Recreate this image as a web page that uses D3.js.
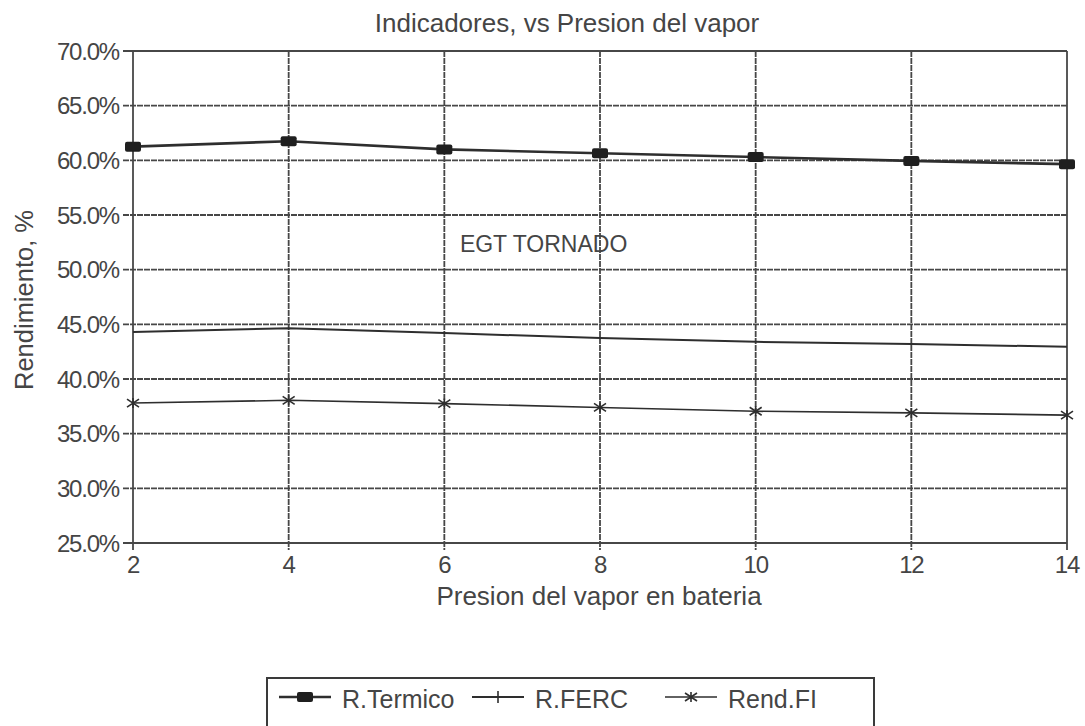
<!DOCTYPE html>
<html>
<head>
<meta charset="utf-8">
<script src="https://cdn.jsdelivr.net/npm/d3@7"></script>
<style>
  html, body { margin: 0; padding: 0; background: #ffffff; }
  svg { display: block; }
  text { font-family: "Liberation Sans", Arial, Helvetica, sans-serif; fill: #454545; }
</style>
</head>
<body>
<svg id="chart" width="1085" height="726"></svg>
<script>
// Presión del vapor en batería (eje X)
const presion = [2, 4, 6, 8, 10, 12, 14];
// Rendimientos en %
const rTermico = [61.25, 61.75, 61.0, 60.65, 60.3, 59.95, 59.65];
const rFerc    = [44.3, 44.65, 44.2, 43.75, 43.4, 43.2, 42.95];
const rendFi   = [37.8, 38.05, 37.75, 37.4, 37.05, 36.9, 36.7];
const yTicks = [25, 30, 35, 40, 45, 50, 55, 60, 65, 70];
const xTicks = [2, 4, 6, 8, 10, 12, 14];
const seriesNames = ["R.Termico", "R.FERC", "Rend.FI"];

const svg = d3.select("#chart");
const ink = "#2e2e2e";
const grid = "#474747";

const x = d3.scaleLinear().domain([2, 14]).range([133, 1067]);
const y = d3.scaleLinear().domain([25, 70]).range([543, 51]);

// Grid
const g = svg.append("g");
g.selectAll("line.h").data(yTicks).join("line")
  .attr("x1", x(2) - 10).attr("x2", x(14))
  .attr("y1", d => y(d)).attr("y2", d => y(d))
  .attr("stroke", grid).attr("stroke-width", 1.8)
  .attr("stroke-dasharray", d => (d === 25 || d === 70) ? null : "6,1");
g.selectAll("line.v").data(xTicks).join("line")
  .attr("x1", d => x(d)).attr("x2", d => x(d))
  .attr("y1", y(70)).attr("y2", y(25) + 7)
  .attr("stroke", grid).attr("stroke-width", 1.8)
  .attr("stroke-dasharray", d => (d === 2 || d === 14) ? null : "6,1");

// Axis tick labels
const fmt = d3.format(".1f");
svg.append("g").selectAll("text").data(yTicks).join("text")
  .attr("x", 119).attr("y", d => y(d) + 8.5)
  .attr("text-anchor", "end")
  .attr("font-size", 24).attr("letter-spacing", -1.2)
  .text(d => fmt(d) + "%");
svg.append("g").selectAll("text").data(xTicks).join("text")
  .attr("x", d => x(d)).attr("y", 573)
  .attr("text-anchor", "middle")
  .attr("font-size", 24).attr("letter-spacing", -1.2)
  .text(d => d);

// Titles
svg.append("text").attr("x", 567).attr("y", 32)
  .attr("text-anchor", "middle").attr("font-size", 26)
  .text("Indicadores, vs Presion del vapor");
svg.append("text").attr("x", 599).attr("y", 605)
  .attr("text-anchor", "middle").attr("font-size", 26)
  .text("Presion del vapor en bateria");
svg.append("text").attr("transform", "translate(33,300) rotate(-90)")
  .attr("text-anchor", "middle").attr("font-size", 25.5)
  .text("Rendimiento, %");
svg.append("text").attr("x", x(6.2)).attr("y", y(51.65))
  .attr("font-size", 23)
  .text("EGT TORNADO");

// Markers
function drawMarker(sel, kind) {
  if (kind === 0) {
    sel.append("rect").attr("x", -8).attr("y", -5).attr("width", 16).attr("height", 10)
      .attr("rx", 2).attr("fill", "#1f1f1f");
  } else if (kind === 1) {
    sel.append("line").attr("x1", 0).attr("x2", 0).attr("y1", -6).attr("y2", 6)
      .attr("stroke", ink).attr("stroke-width", 1.6);
  } else {
    sel.append("path").attr("d", "M-6,-4L6,4M-6,4L6,-4M0,-5L0,5")
      .attr("stroke", ink).attr("stroke-width", 1.6).attr("fill", "none");
  }
}

const line = d3.line().x(d => x(d[0])).y(d => y(d[1]));
const allSeries = [rTermico, rFerc, rendFi];
const widths = [2.6, 2.0, 1.6];
allSeries.forEach((vals, i) => {
  const pts = presion.map((p, j) => [p, vals[j]]);
  svg.append("path").datum(pts)
    .attr("d", line).attr("fill", "none")
    .attr("stroke", ink).attr("stroke-width", widths[i]);
  if (i !== 1) {
    svg.append("g").selectAll("g").data(pts).join("g")
      .attr("transform", d => `translate(${x(d[0])},${y(d[1])})`)
      .each(function () { drawMarker(d3.select(this), i); });
  }
});

// Legend
const leg = svg.append("g");
leg.append("rect").attr("x", 267).attr("y", 678).attr("width", 607).attr("height", 80)
  .attr("fill", "none").attr("stroke", "#3a3a3a").attr("stroke-width", 2);
const legX = [279, 472, 665];
seriesNames.forEach((name, i) => {
  const lg = leg.append("g").attr("transform", `translate(${legX[i]},697)`);
  lg.append("line").attr("x1", 0).attr("x2", 52).attr("y1", 0).attr("y2", 0)
    .attr("stroke", ink).attr("stroke-width", widths[i]);
  drawMarker(lg.append("g").attr("transform", "translate(26,0)"), i);
  lg.append("text").attr("x", 63).attr("y", 10.5).attr("font-size", 25).text(name);
});
</script>
</body>
</html>
